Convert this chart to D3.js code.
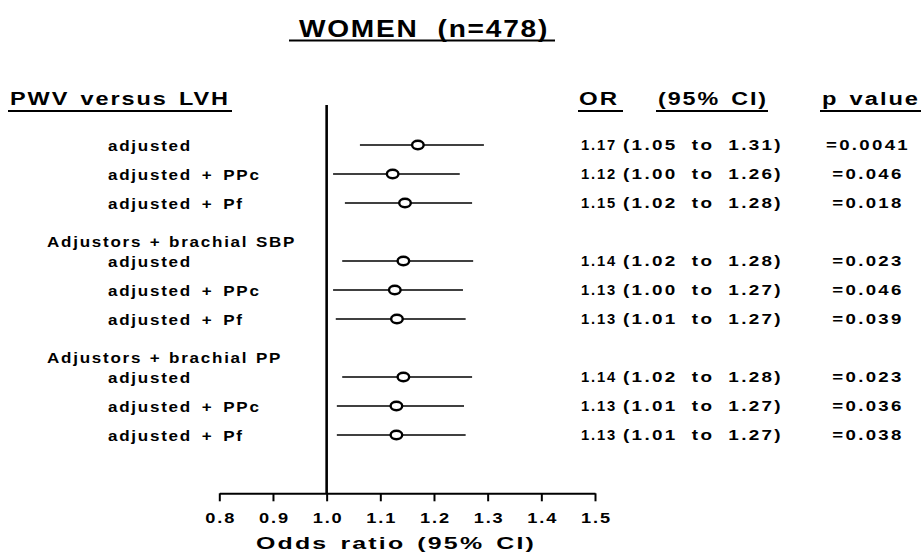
<!DOCTYPE html>
<html>
<head>
<meta charset="utf-8">
<script src="https://cdn.jsdelivr.net/npm/d3@7"></script>
<style>
  html, body { margin: 0; padding: 0; background: #fff; }
  svg { display: block; }
  text { font-family: "Liberation Sans", Arial, sans-serif; font-weight: bold; fill: #000; white-space: pre; }
</style>
</head>
<body>
<div id="chart"></div>
<script>
// ---------------- data ----------------
const chartTitle = "WOMEN  (n=478)";
const groupNames = ["", "Adjustors + brachial SBP", "Adjustors + brachial PP"];
const rowGroup   = [0, 0, 0, 1, 1, 1, 2, 2, 2];
const rowLabels  = ["adjusted", "adjusted + PPc", "adjusted + Pf",
                    "adjusted", "adjusted + PPc", "adjusted + Pf",
                    "adjusted", "adjusted + PPc", "adjusted + Pf"];
// plotted estimates
const orPlot = [1.170, 1.123, 1.146, 1.143, 1.127, 1.131, 1.143, 1.130, 1.130];
const loPlot = [1.062, 1.012, 1.034, 1.029, 1.012, 1.017, 1.029, 1.019, 1.019];
const hiPlot = [1.293, 1.248, 1.271, 1.273, 1.254, 1.259, 1.271, 1.256, 1.259];
// table text
const orText = ["1.17", "1.12", "1.15", "1.14", "1.13", "1.13", "1.14", "1.13", "1.13"];
const ciText = ["(1.05 to 1.31)", "(1.00 to 1.26)", "(1.02 to 1.28)",
                "(1.02 to 1.28)", "(1.00 to 1.27)", "(1.01 to 1.27)",
                "(1.02 to 1.28)", "(1.01 to 1.27)", "(1.01 to 1.27)"];
const pText  = ["=0.0041", "=0.046", "=0.018", "=0.023", "=0.046", "=0.039",
                "=0.023", "=0.036", "=0.038"];
const tickValues = [0.8, 0.9, 1.0, 1.1, 1.2, 1.3, 1.4, 1.5];
const tickLabels = ["0.8", "0.9", "1.0", "1.1", "1.2", "1.3", "1.4", "1.5"];
const headerLeft = "PWV versus LVH";
const colHeaders = ["OR", "(95% CI)", "p value"];
const axisTitle = "Odds ratio (95% CI)";

// ---------------- layout ----------------
const W = 921, H = 559;
const svg = d3.select("#chart").append("svg").attr("width", W).attr("height", H);

const x = d3.scaleLinear().domain([0.8, 1.5]).range([219.3, 595]);
const y = d3.scaleLinear().domain([0, 10]).range([145, 435]);
const slotOf = i => rowGroup[i] * 4 + (i - rowGroup[i] * 3);
const axisY = 493.3;

const rows = rowLabels.map((l, i) => ({
  label: l, slot: slotOf(i), or: orPlot[i], lo: loPlot[i], hi: hiPlot[i],
  orT: orText[i], ciT: ciText[i], pT: pText[i]
}));

function fitTo(sel, w) {
  sel.attr("textLength", w).attr("lengthAdjust", "spacingAndGlyphs");
}
function fitGroup(sel, w) {
  const k = w / sel.node().getComputedTextLength();
  sel.each(function () {
    d3.select(this).attr("textLength", this.getComputedTextLength() * k)
      .attr("lengthAdjust", "spacingAndGlyphs");
  });
  return k;
}
function underline(x1, x2, yy) {
  svg.append("line").attr("x1", x1).attr("x2", x2)
    .attr("y1", yy).attr("y2", yy).attr("stroke", "#000").attr("stroke-width", 2);
}

// title
const t = svg.append("text").attr("x", 299).attr("y", 37)
  .attr("font-size", 24).style("letter-spacing", "1.5px").text(chartTitle);
fitTo(t, 250);
underline(289, 555, 40.5);

// header row
const hl = svg.append("text").attr("x", 10).attr("y", 105)
  .attr("font-size", 18).style("letter-spacing", "1.5px").style("word-spacing", "2px").text(headerLeft);
fitTo(hl, 220);
underline(8, 232, 111);
const colHX = [579, 658, 822], colHW = [40, 110, 98];
const colUL = [[578, 623], [656, 768], [820, 921]];
colHeaders.forEach((h, i) => {
  const s = svg.append("text").attr("x", colHX[i]).attr("y", 105)
    .attr("font-size", 18).style("letter-spacing", "1.5px").style("word-spacing", "2px").text(h);
  fitTo(s, colHW[i]);
  underline(colUL[i][0], colUL[i][1], 111);
});

// row labels
const rl = svg.selectAll("text.rowlab").data(rows).join("text").attr("class", "rowlab")
  .attr("x", 108).attr("y", d => y(d.slot) + 5.5)
  .attr("font-size", 15.5).style("letter-spacing", "1.6px").style("word-spacing", "3px")
  .text(d => d.label);
const kRow = fitGroup(rl, 84);

// group headers
const gh = svg.selectAll("text.grp").data(groupNames.map((g, gi) => ({ g, gi })).filter(d => d.g))
  .join("text").attr("class", "grp")
  .attr("x", 47).attr("y", d => y(d.gi * 4) - 14)
  .attr("font-size", 15.5).style("letter-spacing", "1.6px").style("word-spacing", "1px")
  .text(d => d.g);
gh.each(function () {
  d3.select(this).attr("textLength", this.getComputedTextLength() * kRow)
    .attr("lengthAdjust", "spacingAndGlyphs");
});

// reference line at OR = 1
svg.append("line").attr("x1", x(1)).attr("x2", x(1)).attr("y1", 105).attr("y2", axisY)
  .attr("stroke", "#000").attr("stroke-width", 2.6);

// CI lines
svg.selectAll("line.ci").data(rows).join("line").attr("class", "ci")
  .attr("x1", d => x(d.lo)).attr("x2", d => x(d.hi))
  .attr("y1", d => y(d.slot)).attr("y2", d => y(d.slot))
  .attr("stroke", "#000").attr("stroke-width", 1.4);

// point estimates
svg.selectAll("ellipse.pt").data(rows).join("ellipse").attr("class", "pt")
  .attr("cx", d => x(d.or)).attr("cy", d => y(d.slot))
  .attr("rx", 5.8).attr("ry", 4.2)
  .attr("fill", "#fff").attr("stroke", "#000").attr("stroke-width", 2.4);

// table
const ot = svg.selectAll("text.ort").data(rows).join("text").attr("class", "ort")
  .attr("x", 581).attr("y", d => y(d.slot) + 5)
  .attr("font-size", 14.5).style("letter-spacing", "1.8px").text(d => d.orT);
fitGroup(ot, 36);
const ct = svg.selectAll("text.cit").data(rows).join("text").attr("class", "cit")
  .attr("x", 623).attr("y", d => y(d.slot) + 5)
  .attr("font-size", 14.5).style("letter-spacing", "1.8px").style("word-spacing", "5px").text(d => d.ciT);
fitGroup(ct, 160);
const pt = svg.selectAll("text.pv").data(rows).join("text").attr("class", "pv")
  .attr("x", 868).attr("y", d => y(d.slot) + 5).attr("text-anchor", "middle")
  .attr("font-size", 14.5).style("letter-spacing", "1.8px").text(d => d.pT);
fitGroup(pt, 84);

// x axis
const ax = svg.append("g").attr("transform", `translate(0,${axisY})`)
  .call(d3.axisBottom(x).tickValues(tickValues).tickFormat((d, i) => tickLabels[i])
    .tickSizeInner(8).tickSizeOuter(0).tickPadding(11));
ax.select(".domain").attr("stroke", "#000").attr("stroke-width", 2);
ax.selectAll(".tick line").attr("stroke", "#000").attr("stroke-width", 2);
const tl = ax.selectAll(".tick text").attr("font-size", 14.5)
  .attr("font-family", "Liberation Sans, Arial, sans-serif")
  .attr("font-weight", "bold").attr("fill", "#000").style("letter-spacing", "1.5px")
  .attr("dx", "1px");
fitGroup(tl, 31);

const at = svg.append("text").attr("x", 256).attr("y", 549)
  .attr("font-size", 17).style("letter-spacing", "1.5px").style("word-spacing", "2px").text(axisTitle);
fitTo(at, 280);
</script>
</body>
</html>
